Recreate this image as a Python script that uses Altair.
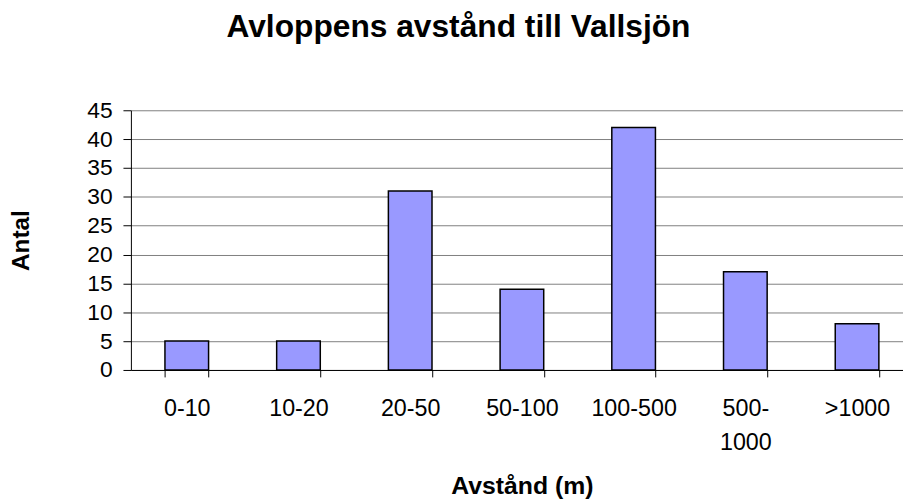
import altair as alt
import pandas as pd

categories = ["0-10", "10-20", "20-50", "50-100", "100-500", "500-1000", ">1000"]
counts = [5, 5, 31, 14, 42, 17, 8]
y_ticks = [0, 5, 10, 15, 20, 25, 30, 35, 40, 45]

df = pd.DataFrame({"cat": categories, "antal": counts})

FONT = "Liberation Sans"
label_expr = "datum.value == '500-1000' ? ['500-', '1000'] : datum.label"

chart = (
    alt.Chart(df)
    .mark_bar(color="#9999FF", stroke="black", strokeWidth=1.5)
    .encode(
        x=alt.X(
            "cat:N",
            sort=categories,
            scale=alt.Scale(paddingInner=0.6095, paddingOuter=0.30475),
            axis=alt.Axis(
                title="Avstånd (m)",
                labelAngle=0,
                labelExpr=label_expr,
                labelFontSize=23.5,
                labelLineHeight=34,
                labelPadding=20,
                labelColor="black",
                labelOverlap=False,
                labelLimit=300,
                tickBand="extent",
                tickSize=7,
                tickColor="black",
                domainColor="black",
                titleFontSize=25,
                titleFontWeight="bold",
                titleColor="black",
                titleX=394.5,
                titleY=125,
                titleBaseline="alphabetic",
            ),
        ),
        y=alt.Y(
            "antal:Q",
            scale=alt.Scale(domain=[0, 45], nice=False),
            axis=alt.Axis(
                values=y_ticks,
                title="Antal",
                labelFontSize=23,
                labelPadding=11,
                labelColor="black",
                tickSize=8,
                tickColor="black",
                domainColor="black",
                gridColor="#808080",
                gridWidth=1,
                titleFontSize=24.5,
                titleFontWeight="bold",
                titleColor="black",
                titleX=-110,
                titleY=131,
                titleAngle=270,
                titleBaseline="middle",
            ),
        ),
    )
    .properties(
        width=789,
        height=262,
        title=alt.TitleParams(
            "Avloppens avstånd till Vallsjön",
            fontSize=32,
            fontWeight="bold",
            font=FONT,
            color="black",
            anchor="middle",
            dx=-64,
            dy=-52,
        ),
        autosize=alt.AutoSizeParams(type="none"),
        padding={"left": 124, "top": 101, "right": -10, "bottom": 129},
    )
    .configure(font=FONT)
    .configure_view(stroke=None)
)

chart.save("out.html", embed_options={"renderer": "svg", "actions": False})
